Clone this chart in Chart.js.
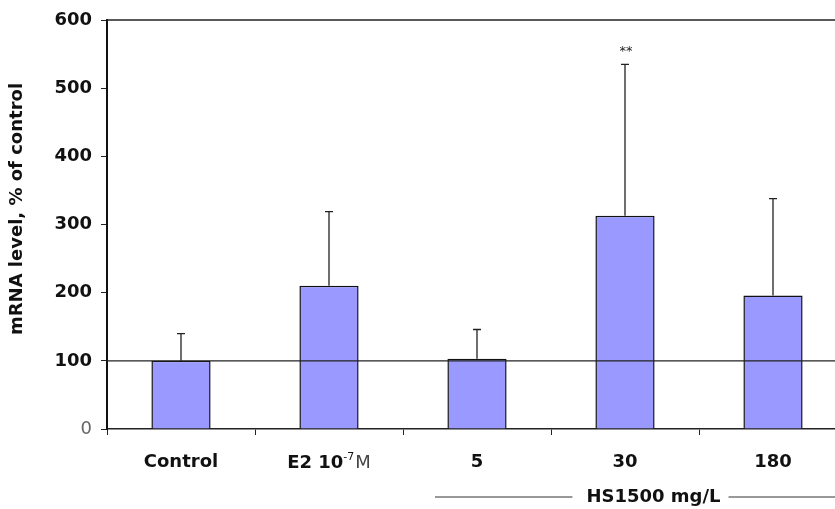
<!DOCTYPE html>
<html>
<head>
<meta charset="utf-8">
<script src="https://cdn.jsdelivr.net/npm/chart.js@4.4.0/dist/chart.umd.min.js"></script>
<style>
  html, body { margin: 0; padding: 0; background: #fff; overflow: hidden; width: 835px; height: 509px; }
  #wrap { width: 850px; height: 509px; }
</style>
</head>
<body>
<div id="wrap"><canvas id="chart" width="850" height="509"></canvas></div>
<script>
// data
var categories = ["Control", "E2 10-7M", "5", "30", "180"];
var mrnaLevel = [100, 210, 103, 313, 196];
var errTop = [140, 319, 146, 535, 338];
var marks = ["", "", "", "**", ""];
var refLevel = 100;
var groupLabel = "HS1500 mg/L";
var yTitle = "mRNA level, % of control";
// E2 label pieces: base, superscript, unit
var e2Parts = ["E2 10", "-7", "M"];

var FAM = "'DejaVu Sans', Verdana, sans-serif";
var boldFont = { family: FAM, size: 18, weight: "bold" };

// error bars, ** marks, line at 100, top frame, E2 label, group label, y title
var extras = {
  id: "extras",
  afterDatasetsDraw: function(chart) {
    var ctx = chart.ctx;
    var x = chart.scales.x, y = chart.scales.y;
    var area = chart.chartArea;
    ctx.save();

    // reference line at control level
    ctx.strokeStyle = "#222";
    ctx.lineWidth = 1.3;
    ctx.beginPath();
    ctx.moveTo(area.left, y.getPixelForValue(refLevel));
    ctx.lineTo(area.right, y.getPixelForValue(refLevel));
    ctx.stroke();

    // top frame line
    ctx.lineWidth = 1.5;
    ctx.beginPath();
    ctx.moveTo(area.left, area.top);
    ctx.lineTo(area.right, area.top);
    ctx.stroke();

    // error bars (upper only)
    ctx.lineWidth = 1.3;
    for (var i = 0; i < mrnaLevel.length; i++) {
      var cx = x.getPixelForValue(i);
      var y0 = y.getPixelForValue(mrnaLevel[i]);
      var y1 = y.getPixelForValue(errTop[i]);
      ctx.beginPath();
      ctx.moveTo(cx, y0);
      ctx.lineTo(cx, y1);
      ctx.moveTo(cx - 4, y1);
      ctx.lineTo(cx + 4, y1);
      ctx.stroke();
      if (marks[i]) {
        ctx.fillStyle = "#222";
        ctx.font = "13px " + FAM;
        ctx.textAlign = "center";
        ctx.textBaseline = "middle";
        ctx.fillText(marks[i], cx + 1, y1 - 13);
      }
    }

    // E2 label with superscript exponent
    ctx.fillStyle = "#111";
    ctx.textBaseline = "alphabetic";
    ctx.textAlign = "left";
    var fBase = "bold 18px " + FAM, fSup = "11px " + FAM, fUnit = "18px " + FAM;
    ctx.font = fBase; var w0 = ctx.measureText(e2Parts[0]).width;
    ctx.font = fSup; var w1 = ctx.measureText(e2Parts[1]).width;
    ctx.font = fUnit; var w2 = ctx.measureText(e2Parts[2]).width;
    var ex = x.getPixelForValue(1) - (w0 + w1 + 1 + w2) / 2;
    var by = 468;
    ctx.font = fBase; ctx.fillText(e2Parts[0], ex, by);
    ctx.font = fSup; ctx.fillText(e2Parts[1], ex + w0, by - 8);
    ctx.font = fUnit; ctx.fillStyle = "#444"; ctx.fillText(e2Parts[2], ex + w0 + w1 + 1, by);

    // group label under the HS1500 doses
    var gStart = x.getPixelForValue(2) - 42;
    var gEnd = area.right + 25;
    var gMid = (gStart + gEnd) / 2;
    var gy = 497;
    ctx.font = "bold 18px " + FAM;
    var tw = ctx.measureText(groupLabel).width;
    ctx.fillStyle = "#111";
    ctx.textAlign = "center";
    ctx.textBaseline = "middle";
    ctx.fillText(groupLabel, gMid, gy);
    ctx.strokeStyle = "#333";
    ctx.lineWidth = 1;
    ctx.beginPath();
    ctx.moveTo(gStart, gy);
    ctx.lineTo(gMid - tw / 2 - 14, gy);
    ctx.moveTo(gMid + tw / 2 + 8, gy);
    ctx.lineTo(gEnd, gy);
    ctx.stroke();

    // y axis title
    ctx.translate(17, 209);
    ctx.rotate(-Math.PI / 2);
    ctx.font = "bold 18px " + FAM;
    ctx.fillText(yTitle, 0, 0);

    ctx.restore();
  }
};

new Chart(document.getElementById("chart"), {
  type: "bar",
  data: {
    labels: categories,
    datasets: [{
      data: mrnaLevel,
      backgroundColor: "#9999FF",
      borderColor: "#111",
      borderWidth: 1.5,
      barPercentage: 0.4,
      categoryPercentage: 1.0
    }]
  },
  options: {
    responsive: false,
    animation: false,
    layout: { padding: { top: 20, right: 3 } },
    plugins: { legend: { display: false }, tooltip: { enabled: false } },
    scales: {
      x: {
        afterFit: function(s) { s.height = 80; },
        grid: { drawOnChartArea: false, offset: true, tickLength: 6, color: "#222", lineWidth: 1 },
        border: { color: "#222", width: 1.5 },
        ticks: {
          color: "#111", font: boldFont, padding: 17, maxRotation: 0, autoSkip: false,
          callback: function(v, i) { return i === 1 ? "" : categories[i]; }
        }
      },
      y: {
        min: 0,
        max: 600,
        afterFit: function(s) { s.width = 107; },
        grid: { drawOnChartArea: false, tickLength: 6, color: "#222" },
        border: { color: "#111", width: 2 },
        ticks: {
          stepSize: 100,
          padding: 9,
          color: function(c) { return c.tick.value === 0 ? "#666" : "#111"; },
          font: function(c) {
            return { family: FAM, size: 18,
                     weight: c.tick && c.tick.value === 0 ? "normal" : "bold" };
          }
        }
      }
    }
  },
  plugins: [extras]
});
</script>
</body>
</html>
